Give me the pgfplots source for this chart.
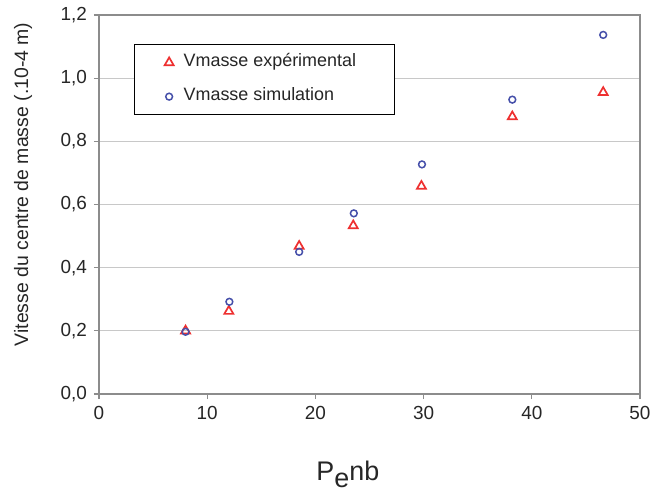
\documentclass[border=0pt]{standalone}
\usepackage{pgfplots}
\pgfplotsset{compat=1.18}
\usepackage{fontspec}
\setmainfont{Liberation Sans}
\definecolor{mred}{RGB}{238,48,48}
\definecolor{mblue}{RGB}{70,80,170}
\definecolor{framec}{RGB}{140,140,140}
\definecolor{gridc}{RGB}{200,200,200}
\pgfplotsset{myimg/.style={legend image code/.code={\draw[mark repeat=2,mark phase=2,##1] plot coordinates {(0bp,0bp)(5bp,0bp)(10bp,0bp)};}}}
\begin{document}
\begin{tikzpicture}
\begin{axis}[
  at={(0,0)}, anchor=south west,
  scale only axis, width=270.5bp, height=189.5bp,
  xmin=0, xmax=50, ymin=0, ymax=1.2,
  xtick={0,10,20,30,40,50},
  ytick={0,0.2,0.4,0.6,0.8,1.0,1.2},
  xtick pos=bottom, ytick pos=left,
  axis line style={framec, line width=1bp},
  ymajorgrids, grid style={gridc, line width=0.6bp},
  tick align=outside, major tick length=2.5bp,
  tick style={framec, line width=0.6bp},
  /pgf/number format/assume math mode=true,
  ticklabel style={font=\fontsize{9.5}{11}\selectfont, text=black!85},
  yticklabel style={/pgf/number format/.cd, fixed, fixed zerofill, precision=1, use comma},
  xticklabel style={/pgf/number format/.cd, fixed, precision=0},
  ylabel={Vitesse du centre de masse (.10-4 m)},
  ylabel style={at={(axis description cs:-0.1405,0.553)}, anchor=center, font=\fontsize{9.75}{11}\selectfont, text=black!85},
  xlabel={P\raisebox{-0.28em}{e}nb},
  xlabel style={at={(axis description cs:0.46,-0.228)}, anchor=base, font=\fontsize{13.5}{15}\selectfont, text=black!85},
  legend style={at={(axis description cs:0.0647,0.9235)}, anchor=north west, draw=black, line width=0.65bp,
     inner xsep=15bp, inner ysep=3.25bp, row sep=5.5bp,
     font=\fontsize{9}{11}\selectfont,
     nodes={inner sep=1bp, text height=6.5bp, text depth=3bp, text=black!85}},
  legend cell align=left,
]
\addplot[only marks, myimg, mark=triangle, mark size=2.6bp, mark options={mred, line width=0.85bp}]
  coordinates {(8.0,0.200) (12.0,0.262) (18.5,0.468) (23.5,0.533) (29.8,0.658) (38.2,0.878) (46.6,0.955)};
\addlegendentry{\makebox[93.5bp][l]{\hspace{4bp}Vmasse expérimental}}
\addplot[only marks, myimg, mark=o, mark size=1.7bp, mark options={mblue, line width=0.75bp}]
  coordinates {(8.0,0.197) (12.05,0.292) (18.5,0.450) (23.55,0.572) (29.85,0.727) (38.2,0.932) (46.6,1.137)};
\addlegendentry{\makebox[93.5bp][l]{\hspace{4bp}Vmasse simulation}}
\end{axis}
\pgfresetboundingbox
\path[use as bounding box] (-49.5bp,-48.5bp) rectangle (279bp,197bp);
\end{tikzpicture}
\end{document}
